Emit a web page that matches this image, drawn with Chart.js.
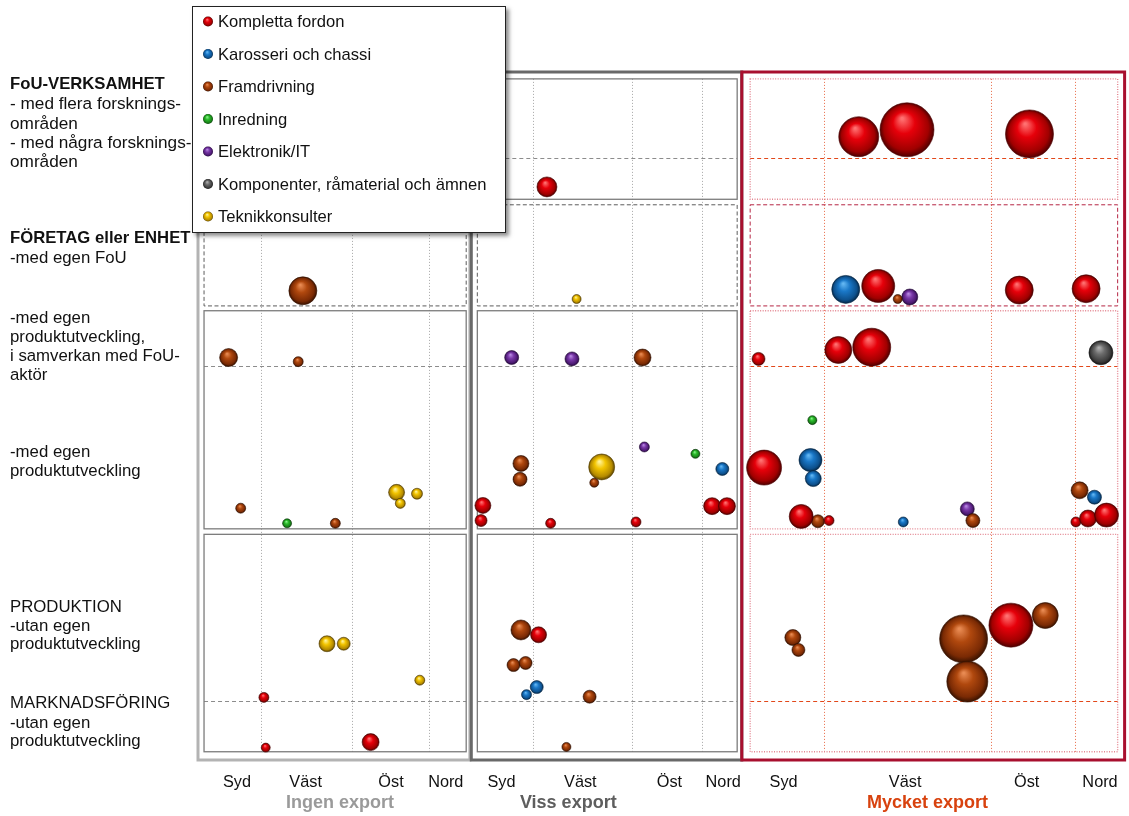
<!DOCTYPE html>
<html>
<head>
<meta charset="utf-8">
<title>Fordonsindustrins företag – FoU, export och region</title>
<script src="https://cdn.jsdelivr.net/npm/chart.js@4/dist/chart.umd.min.js"></script>
<style>
  html, body { margin: 0; padding: 0; background: #ffffff; }
  #wrap { position: relative; width: 1129px; height: 816px; }
</style>
</head>
<body>
<div id="wrap"><canvas id="chart" width="1129" height="816"></canvas></div>
<script>
// ---- Data: one entry per company, [position, level, bubble radius] ----
const komplettaFordon = [
  [7.1, 9.1, 5], [7.3, 1.8, 4.5], [18.6, 2.6, 8.5],
  [37.6, 83.3, 10], [30.7, 37.0, 8], [30.5, 34.8, 6], [38.0, 34.4, 5], [47.2, 34.6, 5],
  [55.4, 36.9, 8.5], [57.0, 36.9, 8.5], [36.7, 18.2, 8],
  [71.2, 90.6, 20], [76.4, 91.6, 27], [89.6, 91.0, 24],
  [73.3, 68.9, 16.5], [88.5, 68.3, 14], [95.7, 68.5, 14],
  [60.4, 58.3, 6.5], [69.0, 59.6, 13.5], [72.6, 60.0, 19],
  [61.0, 42.5, 17.5], [65.0, 35.4, 12], [68.0, 34.8, 5],
  [94.6, 34.6, 5], [95.9, 35.1, 8.5], [97.9, 35.6, 12], [87.6, 19.6, 22]
];
const karosseriOchChassi = [
  [56.5, 42.3, 6.5], [36.5, 10.6, 6.5], [35.4, 9.5, 5],
  [69.8, 68.4, 14], [66.0, 43.6, 11.5], [66.3, 40.9, 8], [76.0, 34.6, 5], [96.6, 38.2, 7]
];
const framdrivning = [
  [11.3, 68.2, 14], [3.3, 58.5, 9], [10.8, 57.9, 5], [4.6, 36.6, 5], [14.8, 34.4, 5],
  [47.9, 58.5, 8.5], [42.7, 40.3, 4.5], [34.8, 43.1, 8], [34.7, 40.8, 7],
  [34.8, 18.9, 10], [34.0, 13.8, 6.5], [35.3, 14.1, 6.5], [42.2, 9.2, 6.5], [39.7, 1.9, 4.5],
  [75.4, 67.0, 4.5], [66.8, 34.7, 6.5], [83.5, 34.8, 7], [95.0, 39.2, 8.5],
  [64.1, 17.8, 8], [64.7, 16.0, 6.5], [82.5, 17.6, 24], [82.9, 11.4, 20.5], [91.3, 21.0, 13]
];
const inredning = [[9.6, 34.4, 4.5], [53.6, 44.5, 4.5], [66.2, 49.4, 4.5]];
const elektronikIT = [
  [33.8, 58.5, 7], [40.3, 58.3, 7], [48.1, 45.5, 5], [76.7, 67.3, 8], [82.9, 36.5, 7]
];
const komponenter = [[97.3, 59.2, 12]];
const teknikkonsulter = [
  [21.4, 38.9, 8], [23.6, 38.7, 5.5], [21.8, 37.3, 5],
  [13.9, 16.9, 8], [15.7, 16.9, 6.5], [23.9, 11.6, 5],
  [40.8, 67.0, 4.5], [43.5, 42.6, 13]
];

const seriesNames = [
  'Kompletta fordon', 'Karosseri och chassi', 'Framdrivning', 'Inredning',
  'Elektronik/IT', 'Komponenter, råmaterial och ämnen', 'Teknikkonsulter'
];
const regionLabels = ['Syd', 'Väst', 'Öst', 'Nord'];
const exportGroups = ['Ingen export', 'Viss export', 'Mycket export'];
// [text, weight/size style]
const rowLabelLines = [
  ['FoU-VERKSAMHET', 'head'], ['- med flera forsknings-', 'big'], ['områden', 'big'],
  ['- med några forsknings-', 'big'], ['områden', 'big'],
  ['FÖRETAG eller ENHET', 'head'], ['-med egen FoU', 'text'],
  ['-med egen', 'text'], ['produktutveckling,', 'text'], ['i samverkan med FoU-', 'text'], ['aktör', 'text'],
  ['-med egen', 'text'], ['produktutveckling', 'text'],
  ['PRODUKTION', 'text'], ['-utan egen', 'text'], ['produktutveckling', 'text'],
  ['MARKNADSFÖRING', 'text'], ['-utan egen', 'text'], ['produktutveckling', 'text']
];

// ---- Layout (in axis units) ----
const rowLabelLevels = [98.4, 95.5, 92.6, 89.8, 87.0, 75.9, 73.1, 64.4, 61.6, 58.8, 56.0,
                        44.9, 42.1, 22.4, 19.6, 16.9, 8.4, 5.5, 2.8];
const groupLayout = [
  { outer: [0.0, 29.3], panel: [0.65, 28.9], dividers: [6.8, 16.6, 24.9],
    ticks: [4.2, 11.6, 20.8, 26.7], title: 15.3 },
  { outer: [29.45, 58.6], panel: [30.1, 58.1], dividers: [36.1, 46.8, 54.3],
    ticks: [32.7, 41.2, 50.8, 56.6], title: 39.9 },
  { outer: [58.6, 99.85], panel: [59.5, 99.1], dividers: [67.5, 85.5, 94.5],
    ticks: [63.1, 76.2, 89.3, 97.2], title: 78.6 }
];
const panelRows = [
  { y: [81.5, 99.0], split: 87.5, dashed: false },
  { y: [66.0, 80.7], split: null, dashed: true },
  { y: [33.6, 65.3], split: 57.3, dashed: false },
  { y: [1.2, 32.8], split: 8.6, dashed: false }
];
const groupStyles = [
  { outer: '#b3b3b3', box: '#7c7c7c', boxDash: [], box2: '#5c5c5c', split: '#8c8c8c', vline: '#a6a6a6', title: '#9a9a9a' },
  { outer: '#696969', box: '#7c7c7c', boxDash: [], box2: '#5c5c5c', split: '#8c8c8c', vline: '#a6a6a6', title: '#5e5e5e' },
  { outer: '#a80f2e', box: '#e3848f', boxDash: [1, 1.5], box2: '#b52543', split: '#e2481a', vline: '#e86a45', title: '#d8420e' }
];
const palettes = [
  { light: '#ff7070', base: '#e6000a', dark: '#a00000', rim: '#4e0000' },
  { light: '#62b6f2', base: '#1a78c8', dark: '#0d508c', rim: '#052848' },
  { light: '#e88a52', base: '#b0480e', dark: '#7a2a04', rim: '#381200' },
  { light: '#8cf08c', base: '#2cbc2c', dark: '#178017', rim: '#0a400a' },
  { light: '#b88ae2', base: '#7b3aaa', dark: '#4c1a72', rim: '#260a3c' },
  { light: '#b0b0b0', base: '#6c6c6c', dark: '#3c3c3c', rim: '#181818' },
  { light: '#fff39a', base: '#f2c400', dark: '#b48a00', rim: '#5c4400' }
];
const FONT = '"Liberation Sans", Arial, sans-serif';
const labelFonts = { head: 'bold 16.7px ' + FONT, big: '17.2px ' + FONT, text: '16.8px ' + FONT };

function sphereGradient(ctx2d, cx, cy, r, pal) {
  const g = ctx2d.createRadialGradient(cx - r * 0.18, cy - r * 0.42, r * 0.04, cx, cy, r);
  g.addColorStop(0, pal.light);
  g.addColorStop(0.38, pal.base);
  g.addColorStop(0.82, pal.dark);
  g.addColorStop(1, pal.rim);
  return g;
}

function sphereFill(pal) {
  return function (c) {
    const raw = c.raw;
    const xs = c.chart.scales.x, ys = c.chart.scales.y;
    if (!raw || !xs || !ys) return pal.base;
    const cx = xs.getPixelForValue(raw.x), cy = ys.getPixelForValue(raw.y);
    if (!isFinite(cx) || !isFinite(cy) || !isFinite(raw.r)) return pal.base;
    return sphereGradient(c.chart.ctx, cx, cy, raw.r, pal);
  };
}

const seriesData = [komplettaFordon, karosseriOchChassi, framdrivning, inredning,
                    elektronikIT, komponenter, teknikkonsulter];

const datasets = seriesData.map((rows, i) => ({
  label: seriesNames[i],
  data: rows.map(([x, y, r]) => ({ x, y, r })),
  backgroundColor: sphereFill(palettes[i]),
  borderColor: palettes[i].rim,
  borderWidth: 0.6,
  clip: false
}));

function line(ctx, x1, y1, x2, y2, color, width, dash) {
  ctx.save();
  ctx.strokeStyle = color; ctx.lineWidth = width; ctx.setLineDash(dash || []);
  ctx.beginPath(); ctx.moveTo(x1, y1); ctx.lineTo(x2, y2); ctx.stroke();
  ctx.restore();
}
function rect(ctx, x1, y1, x2, y2, color, width, dash) {
  ctx.save();
  ctx.strokeStyle = color; ctx.lineWidth = width; ctx.setLineDash(dash || []);
  ctx.strokeRect(x1, y1, x2 - x1, y2 - y1);
  ctx.restore();
}

const framePlugin = {
  id: 'frames',
  beforeDatasetsDraw(chart) {
    const ctx = chart.ctx, X = v => chart.scales.x.getPixelForValue(v), Y = v => chart.scales.y.getPixelForValue(v);
    groupLayout.forEach((g, gi) => {
      const st = groupStyles[gi];
      const px1 = X(g.panel[0]), px2 = X(g.panel[1]);
      g.dividers.forEach(d => line(ctx, Math.round(X(d)) + 0.5, Y(panelRows[0].y[1]), Math.round(X(d)) + 0.5, Y(panelRows[3].y[0]), st.vline, 1, [1, 2]));
      panelRows.forEach(row => {
        const y1 = Y(row.y[1]), y2 = Y(row.y[0]);
        if (row.split !== null) {
          const ys = Math.round(Y(row.split)) + 0.5;
          line(ctx, px1, ys, px2, ys, st.split, 1, [4, 3]);
        }
        if (row.dashed) rect(ctx, px1, y1, px2, y2, st.box2, 1, [4, 2.5]);
        else rect(ctx, px1, y1, px2, y2, st.box, gi === 2 ? 1.4 : 1.3, st.boxDash);
      });
    });
    groupLayout.forEach((g, gi) => {
      rect(ctx, X(g.outer[0]), Y(100), X(g.outer[1]), Y(0), groupStyles[gi].outer, 3);
    });
  },
  afterDraw(chart) {
    const ctx = chart.ctx, X = v => chart.scales.x.getPixelForValue(v), Y = v => chart.scales.y.getPixelForValue(v);
    const bottom = chart.chartArea.bottom;
    ctx.save();
    ctx.textBaseline = 'middle';
    groupLayout.forEach((g, gi) => {
      ctx.textAlign = 'center';
      ctx.fillStyle = '#111111';
      ctx.font = '16.3px ' + FONT;
      g.ticks.forEach((t, i) => ctx.fillText(regionLabels[i], X(t), bottom + 23));
      ctx.fillStyle = groupStyles[gi].title;
      ctx.font = 'bold 18px ' + FONT;
      ctx.fillText(exportGroups[gi], X(g.title), bottom + 43);
    });
    ctx.textAlign = 'left';
    ctx.fillStyle = '#111111';
    rowLabelLines.forEach(([text, style], i) => {
      ctx.font = labelFonts[style];
      ctx.fillText(text, 10, Y(rowLabelLevels[i]) + 1);
    });
    // legend box
    const lx = 192, ly = 6, lw = 314, lh = 227;
    ctx.save();
    ctx.shadowColor = 'rgba(0,0,0,0.45)';
    ctx.shadowOffsetX = 3; ctx.shadowOffsetY = 3; ctx.shadowBlur = 4;
    ctx.fillStyle = '#ffffff';
    ctx.fillRect(lx, ly, lw, lh);
    ctx.restore();
    rect(ctx, lx + 0.5, ly + 0.5, lx + lw - 0.5, ly + lh - 0.5, '#222222', 1);
    chart.data.datasets.forEach((ds, i) => {
      const cy = ly + 15.5 + i * 32.5, cx = lx + 16;
      ctx.beginPath();
      ctx.arc(cx, cy, 5, 0, Math.PI * 2);
      ctx.fillStyle = sphereGradient(ctx, cx, cy, 5, palettes[i]);
      ctx.fill();
      ctx.fillStyle = '#111111';
      ctx.font = '16.6px ' + FONT;
      ctx.fillText(ds.label, lx + 26, cy + 1);
    });
    ctx.restore();
  }
};

new Chart(document.getElementById('chart'), {
  type: 'bubble',
  data: { datasets },
  options: {
    responsive: false,
    animation: false,
    events: [],
    layout: { autoPadding: false, padding: { left: 198, right: 3, top: 72, bottom: 56 } },
    scales: {
      x: { type: 'linear', min: 0, max: 100, display: false },
      y: { type: 'linear', min: 0, max: 100, display: false }
    },
    plugins: { legend: { display: false }, tooltip: { enabled: false } }
  },
  plugins: [framePlugin]
});
</script>
</body>
</html>
